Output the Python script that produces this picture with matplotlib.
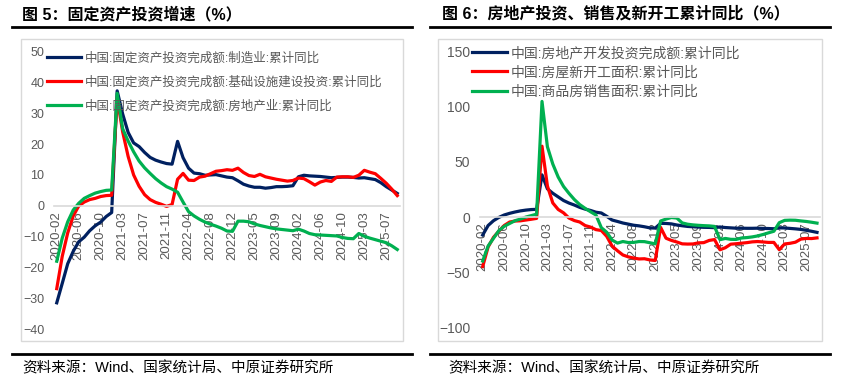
import matplotlib
matplotlib.use("Agg")
import matplotlib.pyplot as plt
from matplotlib.lines import Line2D
from matplotlib.patches import Rectangle

plt.rcParams["font.family"] = ["Liberation Sans", "Noto Sans CJK SC"]

# ---------------------------------------------------------------------------
# data (cumulative y/y, %, Jan-Feb reported together -> no January points)
# ---------------------------------------------------------------------------
months = [f"{y}-{m:02d}" for y in range(2020, 2026) for m in range(2, 13)
          if not (y == 2025 and m > 9)]

mfg_fai = [-31.5, -25.2, -18.8, -14.8, -11.7, -10.2, -8.1, -6.5, -5.3, -3.5, -2.2,
           37.3, 29.8, 23.8, 20.4, 19.2, 17.3, 15.7, 14.8, 14.2, 13.7, 13.5,
           20.9, 15.6, 12.2, 10.6, 10.4, 9.9, 10.0, 10.1, 9.7, 9.3, 9.1,
           8.1, 7.0, 6.4, 6.0, 6.0, 5.7, 5.9, 6.2, 6.2, 6.3, 6.5,
           9.4, 9.9, 9.7, 9.6, 9.5, 9.3, 9.1, 9.2, 9.3, 9.3, 9.2,
           9.0, 9.1, 8.8, 8.5, 7.5, 6.2, 5.1, 4.0]
infra_fai = [-26.9, -16.4, -8.8, -3.3, -0.1, 1.2, 2.0, 2.4, 3.0, 3.3, 3.4,
             35.0, 24.0, 16.0, 10.0, 6.3, 3.6, 2.0, 1.1, 0.5, -0.2, 0.4,
             8.6, 10.5, 8.3, 8.2, 9.3, 9.6, 10.4, 11.2, 11.4, 11.7, 11.5,
             12.2, 10.8, 9.8, 9.5, 10.2, 9.4, 9.0, 8.6, 8.3, 8.0, 8.2,
             9.0, 8.8, 7.8, 6.7, 7.7, 8.2, 7.9, 9.3, 9.4, 9.4, 9.2,
             9.9, 11.5, 10.9, 10.4, 8.9, 7.3, 5.4, 3.3]
realty_fai = [-18.0, -10.5, -5.2, -1.4, 0.8, 2.4, 3.3, 4.1, 4.6, 5.0, 5.1,
              36.5, 25.0, 21.0, 17.5, 14.5, 12.3, 10.5, 8.8, 7.4, 6.2, 5.4,
              4.4, 1.2, -1.9, -3.3, -4.4, -5.3, -6.0, -6.6, -7.3, -8.2, -8.3,
              -5.0, -5.0, -5.2, -5.9, -6.4, -6.8, -7.2, -7.5, -7.7, -7.9, -8.1,
              -7.6, -8.2, -9.0, -9.4, -9.5, -9.6, -9.7, -9.8, -10.3, -10.6, -10.7,
              -9.0, -9.9, -10.5, -11.0, -11.5, -12.0, -13.0, -14.2]

dev_inv = [-16.3, -7.7, -3.3, -0.3, 1.9, 3.4, 4.6, 5.6, 6.3, 6.8, 7.0,
           38.3, 25.6, 21.6, 18.3, 15.0, 12.7, 10.9, 8.8, 7.2, 6.0, 4.4,
           3.7, 0.7, -2.7, -4.0, -5.4, -6.4, -7.4, -8.0, -8.8, -9.8, -10.0,
           -5.7, -5.8, -6.2, -7.2, -7.9, -8.5, -8.8, -9.1, -9.3, -9.4, -9.6,
           -9.0, -9.5, -9.8, -10.1, -10.1, -10.2, -10.2, -10.1, -10.3, -10.4, -10.6,
           -9.8, -9.9, -10.3, -10.7, -11.2, -12.0, -12.9, -13.9]
new_starts = [-44.9, -27.2, -18.4, -12.8, -7.6, -4.5, -3.6, -3.4, -2.7, -2.0, -1.2,
              64.3, 28.2, 12.8, 6.9, 3.8, -0.9, -3.2, -4.5, -7.7, -9.1, -11.4,
              -12.2, -17.5, -26.3, -30.6, -34.4, -36.1, -37.2, -38.0, -37.8, -38.9, -39.4,
              -9.4, -19.2, -21.2, -22.6, -24.3, -24.5, -24.4, -23.4, -23.2, -21.2, -20.4,
              -29.7, -27.8, -24.6, -24.2, -23.7, -23.2, -22.5, -22.2, -22.6, -23.0, -23.0,
              -29.6, -24.4, -23.8, -22.8, -20.0, -19.4, -19.5, -18.9]
sales_area = [-39.9, -26.3, -19.3, -12.3, -8.4, -5.8, -3.3, -1.8, 0.0, 1.3, 2.6,
              104.9, 63.8, 48.1, 36.3, 27.7, 21.5, 15.9, 11.3, 7.9, 4.8, 1.9,
              -9.6, -13.8, -20.9, -23.6, -22.2, -23.1, -23.0, -22.2, -22.3, -23.3, -24.3,
              -3.6, -1.8, -0.4, -0.9, -5.3, -6.5, -7.1, -7.5, -7.8, -8.0, -8.5,
              -20.5, -19.4, -20.2, -20.3, -19.0, -18.6, -18.0, -17.1, -15.8, -14.3, -12.9,
              -5.1, -3.0, -2.8, -2.9, -3.5, -4.0, -4.7, -5.5]

left_labels = ["中国:固定资产投资完成额:制造业:累计同比",
               "中国:固定资产投资完成额:基础设施建设投资:累计同比",
               "中国:固定资产投资完成额:房地产业:累计同比"]
right_labels = ["中国:房地产开发投资完成额:累计同比",
                "中国:房屋新开工面积:累计同比",
                "中国:商品房销售面积:累计同比"]
colors = ["#002060", "#FF0000", "#00B050"]
GREY = "#595959"
W, H = 843, 379


def _fx(px):
    return px / W


def _fy(py):
    return 1 - py / H


def _style_axis(ax, yticks):
    x = range(len(months))
    ax.set_xlim(-0.5, len(months) - 0.5)
    ax.set_ylim(yticks[0], yticks[-1])
    for s in ["top", "right", "left"]:
        ax.spines[s].set_visible(False)
    # category axis crosses at zero (resets ticks, so set ticks afterwards)
    ax.spines["bottom"].set_position(("data", 0))
    ax.spines["bottom"].set_color("#D9D9D9")
    ax.spines["bottom"].set_linewidth(1.2)
    ax.set_yticks(yticks)
    ax.set_xticks(list(x)[::4])
    ax.set_xticklabels(months[::4])
    ax.tick_params(axis="both", length=0, colors=GREY, labelsize=9)
    ax.tick_params(axis="x", pad=4, labelrotation=90, labelsize=9.5)
    ax.tick_params(axis="y", pad=7)


fig = plt.figure(figsize=(W / 100, H / 100), dpi=100)

# panel frames
for x0, x1 in [(21, 403), (438, 822)]:
    fig.add_artist(Rectangle((_fx(x0), _fy(341)), _fx(x1 - x0), (341 - 39) / H,
                             transform=fig.transFigure, fill=False,
                             edgecolor="#D9D9D9", lw=1))

# left: fixed asset investment
ax1 = fig.add_axes([_fx(54), _fy(329), _fx(400 - 54), (329 - 51.7) / H])
for vals, c, lab in zip([mfg_fai, infra_fai, realty_fai], colors, left_labels):
    ax1.plot(range(len(months)), vals, color=c, lw=2.3, label=lab)
_style_axis(ax1, list(range(-40, 51, 10)))
ax1.legend(loc="upper left", bbox_to_anchor=(_fx(47), _fy(52)),
           bbox_transform=fig.transFigure, frameon=False, fontsize=9,
           handlelength=2.7, handletextpad=0.35, labelspacing=0.95,
           borderpad=0, borderaxespad=0, labelcolor=GREY)

# right: real estate
ax2 = fig.add_axes([_fx(480), _fy(327.3), _fx(819.7 - 480), (327.3 - 51.7) / H])
for vals, c, lab in zip([dev_inv, new_starts, sales_area], colors, right_labels):
    ax2.plot(range(len(months)), vals, color=c, lw=2.3, label=lab)
_style_axis(ax2, [-100, -50, 0, 50, 100, 150])
ax2.tick_params(axis="y", labelsize=10)
ax2.legend(loc="upper left", bbox_to_anchor=(_fx(472), _fy(46)),
           bbox_transform=fig.transFigure, frameon=False, fontsize=10,
           handlelength=2.5, handletextpad=0.3, labelspacing=0.38,
           borderpad=0, borderaxespad=0, labelcolor=GREY)

# titles, rules and source notes
titles = ["图 5：固定资产投资增速（%）", "图 6：房地产投资、销售及新开工累计同比（%）"]
for (x0, x1, tx, sx), title in zip([(12, 412, 22, 22), (430, 830, 442, 448)], titles):
    fig.add_artist(Line2D([_fx(x0), _fx(x1)], [_fy(27)] * 2, color="black", lw=2))
    fig.add_artist(Line2D([_fx(x0), _fx(x1)], [_fy(354)] * 2, color="black", lw=2))
    fig.text(_fx(tx), _fy(14), title, fontsize=11.5, fontweight="bold",
             va="center", ha="left")
    fig.text(_fx(sx), _fy(368), "资料来源：Wind、国家统计局、中原证券研究所",
             fontsize=10.5, va="center", ha="left")

fig.savefig("out.png", dpi=100, facecolor="white")
